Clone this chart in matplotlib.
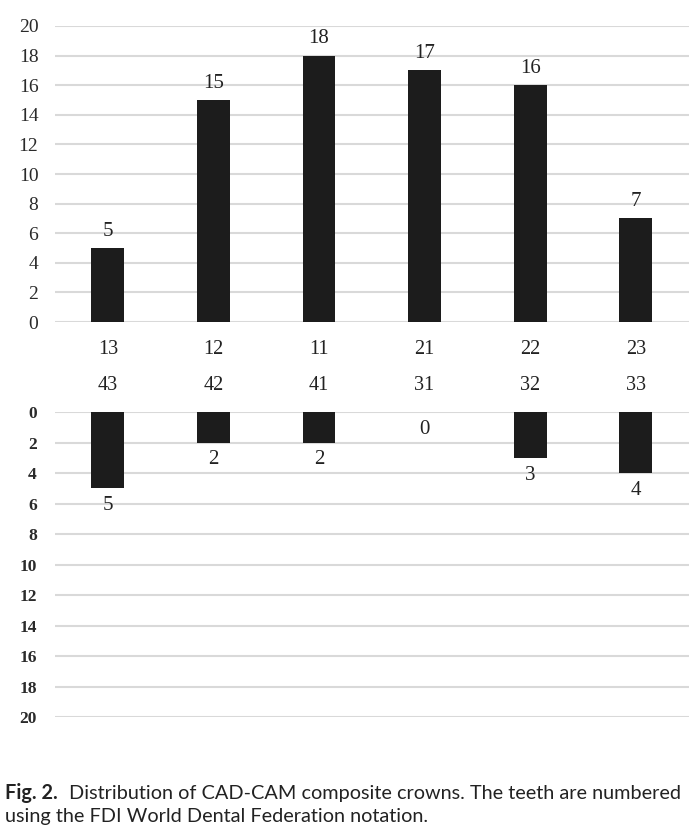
import matplotlib.pyplot as plt

# dados: dentes superiores e inferiores (notação FDI)
dentes_sup = ['13', '12', '11', '21', '22', '23']
dentes_inf = ['43', '42', '41', '31', '32', '33']
coroas_sup = [5, 15, 18, 17, 16, 7]
coroas_inf = [5, 2, 2, 0, 3, 4]
yticks = list(range(0, 21, 2))

serif = 'Liberation Serif'
grid_cor = '#d9d9d9'
barra_cor = '#1c1c1c'

fig = plt.figure(figsize=(7, 8.3), dpi=100)
ax1 = fig.add_axes([0.0786, 0.612, 0.905, 0.3567])
ax2 = fig.add_axes([0.0786, 0.1361, 0.905, 0.3675])

x = list(range(len(dentes_sup)))

for ax in (ax1, ax2):
    ax.set_xlim(-0.5, len(x) - 0.5)
    ax.set_yticks(yticks)
    ax.grid(axis='y', color=grid_cor, linewidth=1.5)
    ax.set_axisbelow(True)
    for s in ax.spines.values():
        s.set_visible(False)
    ax.tick_params(length=0)

# painel superior
ax1.bar(x, coroas_sup, width=0.31, color=barra_cor, linewidth=0)
ax1.set_ylim(0, 20)
ax1.set_xticks(x)
ax1.set_xticklabels(dentes_sup, fontfamily=serif, fontsize=14.5, color='#222222')
ax1.tick_params(axis='x', pad=13)
ax1.set_yticklabels([str(v) for v in yticks], fontfamily=serif, fontsize=14, color='#2a2a2a')
ax1.tick_params(axis='y', pad=12)
for i, v in enumerate(coroas_sup):
    ax1.annotate(str(v), (i, v), xytext=(0, 12), textcoords='offset points',
                 ha='center', va='center', fontfamily=serif, fontsize=15, color='#222222')

# painel inferior (invertido)
ax2.bar(x, coroas_inf, width=0.31, color=barra_cor, linewidth=0)
ax2.set_ylim(20, 0)
ax2.xaxis.tick_top()
ax2.set_xticks(x)
ax2.set_xticklabels(dentes_inf, fontfamily=serif, fontsize=14.5, color='#222222')
ax2.tick_params(axis='x', pad=12)
ax2.set_yticklabels([str(v) for v in yticks], fontfamily=serif, fontsize=12.5,
                    fontweight='bold', color='#2a2a2a')
ax2.tick_params(axis='y', pad=13)
for i, v in enumerate(coroas_inf):
    ax2.annotate(str(v), (i, v), xytext=(0, -12.5), textcoords='offset points',
                 ha='center', va='center', fontfamily=serif, fontsize=15, color='#222222')

# legenda da figura
fig.text(0.007, 0.0445, 'Fig. 2.', fontfamily='Lato', fontweight='bold', fontsize=14.3,
         va='center', color='#222222')
fig.text(0.099, 0.0445, 'Distribution of CAD-CAM composite crowns. The teeth are numbered',
         fontfamily='Lato', fontsize=14.3, va='center', color='#222222')
fig.text(0.007, 0.0165, 'using the FDI World Dental Federation notation.',
         fontfamily='Lato', fontsize=14.3, va='center', color='#222222')

fig.savefig('out.png', dpi=100)
